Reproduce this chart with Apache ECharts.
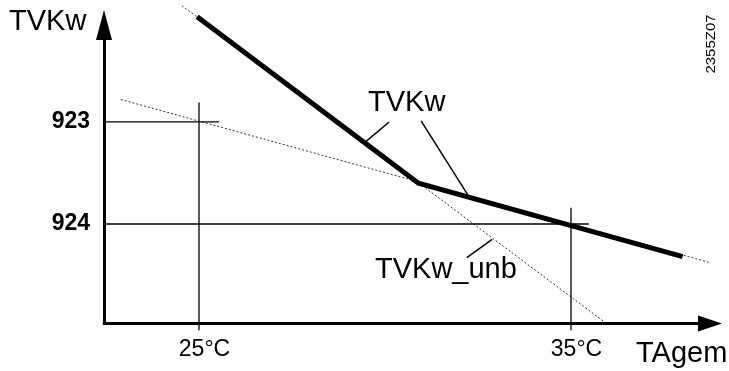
<!DOCTYPE html>
<html>
<head>
<meta charset="utf-8">
<script src="https://cdn.jsdelivr.net/npm/echarts@6/dist/echarts.min.js"></script>
<style>
html,body{margin:0;padding:0;background:#fff;}
#c{width:729px;height:371px;}
</style>
</head>
<body>
<div id="c"></div>
<script>
// Axis ranges (°C and TVKw parameter scale)
var xRange = [22.446, 38.737];
var yRange = [922.05, 924.975];
// Tick labels
var xTicks = [25, 35];
var yTicks = [923, 924];
// TVKw (bold characteristic with knee)
var tvkw = [[24.95, 921.97], [30.9, 923.6], [38.0, 924.32]];
// TVKw_unb (steep, unbounded) and the shallow line through 923/924
var steepLine = [[24.54, 921.86], [35.9, 924.96]];
var shallowLine = [[22.9, 922.78], [39.25, 924.43]];
// Guide lines
var h923 = [[22.285, 923], [25.54, 923]];
var v25 = [[25, 922.81], [25, 925.04]];
var h924 = [[22.285, 924], [35.48, 924]];
var v35 = [[35, 923.84], [35, 925.04]];
// Label leader lines
var lead1 = [[30.11, 923.0], [29.46, 923.2]];
var lead2 = [[30.97, 922.99], [32.26, 923.735]];
var lead3 = [[32.88, 924.15], [32.2, 924.33]];

var FONT = 'Liberation Sans, Arial, Helvetica, sans-serif';

function lineSeries(data, width, type, color, z) {
  return {
    type: 'line', data: data, symbol: 'none', clip: false, silent: true,
    lineStyle: {color: color || '#000', width: width, type: type || 'solid', cap: 'butt', join: 'miter'},
    z: z || 2, animation: false
  };
}

var chart = echarts.init(document.getElementById('c'), null, {renderer: 'canvas'});
chart.setOption({
  animation: false,
  backgroundColor: '#fff',
  grid: {left: 104, right: 19, top: 25, bottom: 47.5, containLabel: false, outerBoundsMode: 'none'},
  xAxis: {
    type: 'value', min: xRange[0], max: xRange[1],
    axisLine: {show: true, symbol: ['none', 'triangle'], symbolSize: [16, 24],
      lineStyle: {color: '#000', width: 3}},
    axisTick: {show: false}, splitLine: {show: false},
    axisLabel: {customValues: xTicks, formatter: function (v) { return v + '°C'; },
      fontFamily: FONT, fontSize: 23, color: '#000', margin: 15, padding: [0, 0, 0, 11]}
  },
  yAxis: {
    type: 'value', inverse: true, min: yRange[0], max: yRange[1],
    axisLine: {show: true, symbol: ['none', 'triangle'], symbolSize: [16, 30],
      lineStyle: {color: '#000', width: 3}},
    axisTick: {show: false}, splitLine: {show: false},
    axisLabel: {customValues: yTicks, formatter: function (v) { return String(v); },
      fontFamily: FONT, fontSize: 23, fontWeight: 'bold', color: '#000', margin: 14}
  },
  series: [
    lineSeries(shallowLine, 1, [2, 2], '#333', 1),
    lineSeries(steepLine, 1, [2, 2], '#333', 1),
    lineSeries(h923, 1.3),
    lineSeries(v25, 1.3),
    lineSeries(h924, 1.3),
    lineSeries(v35, 1.3),
    lineSeries(lead1, 1.5),
    lineSeries(lead2, 1.5),
    lineSeries(lead3, 1.5),
    lineSeries(tvkw, 5, 'solid', '#000', 5)
  ],
  graphic: [
    {type: 'text', x: 9, y: 22, style: {text: 'TVKw', font: '29px ' + FONT, fill: '#000', verticalAlign: 'middle'}},
    {type: 'text', x: 368, y: 103, style: {text: 'TVKw', font: '29px ' + FONT, fill: '#000', verticalAlign: 'middle'}},
    {type: 'text', x: 375, y: 270, style: {text: 'TVKw_unb', font: '29px ' + FONT, fill: '#000', verticalAlign: 'middle'}},
    {type: 'text', x: 636, y: 354, style: {text: 'TAgem', font: '29px ' + FONT, fill: '#000', verticalAlign: 'middle'}},
    {type: 'text', x: 711.5, y: 44, rotation: Math.PI / 2, scaleY: 0.8,
      style: {text: '2355Z07', font: '15px ' + FONT, fill: '#000', align: 'center', verticalAlign: 'middle'}}
  ]
});
</script>
</body>
</html>
